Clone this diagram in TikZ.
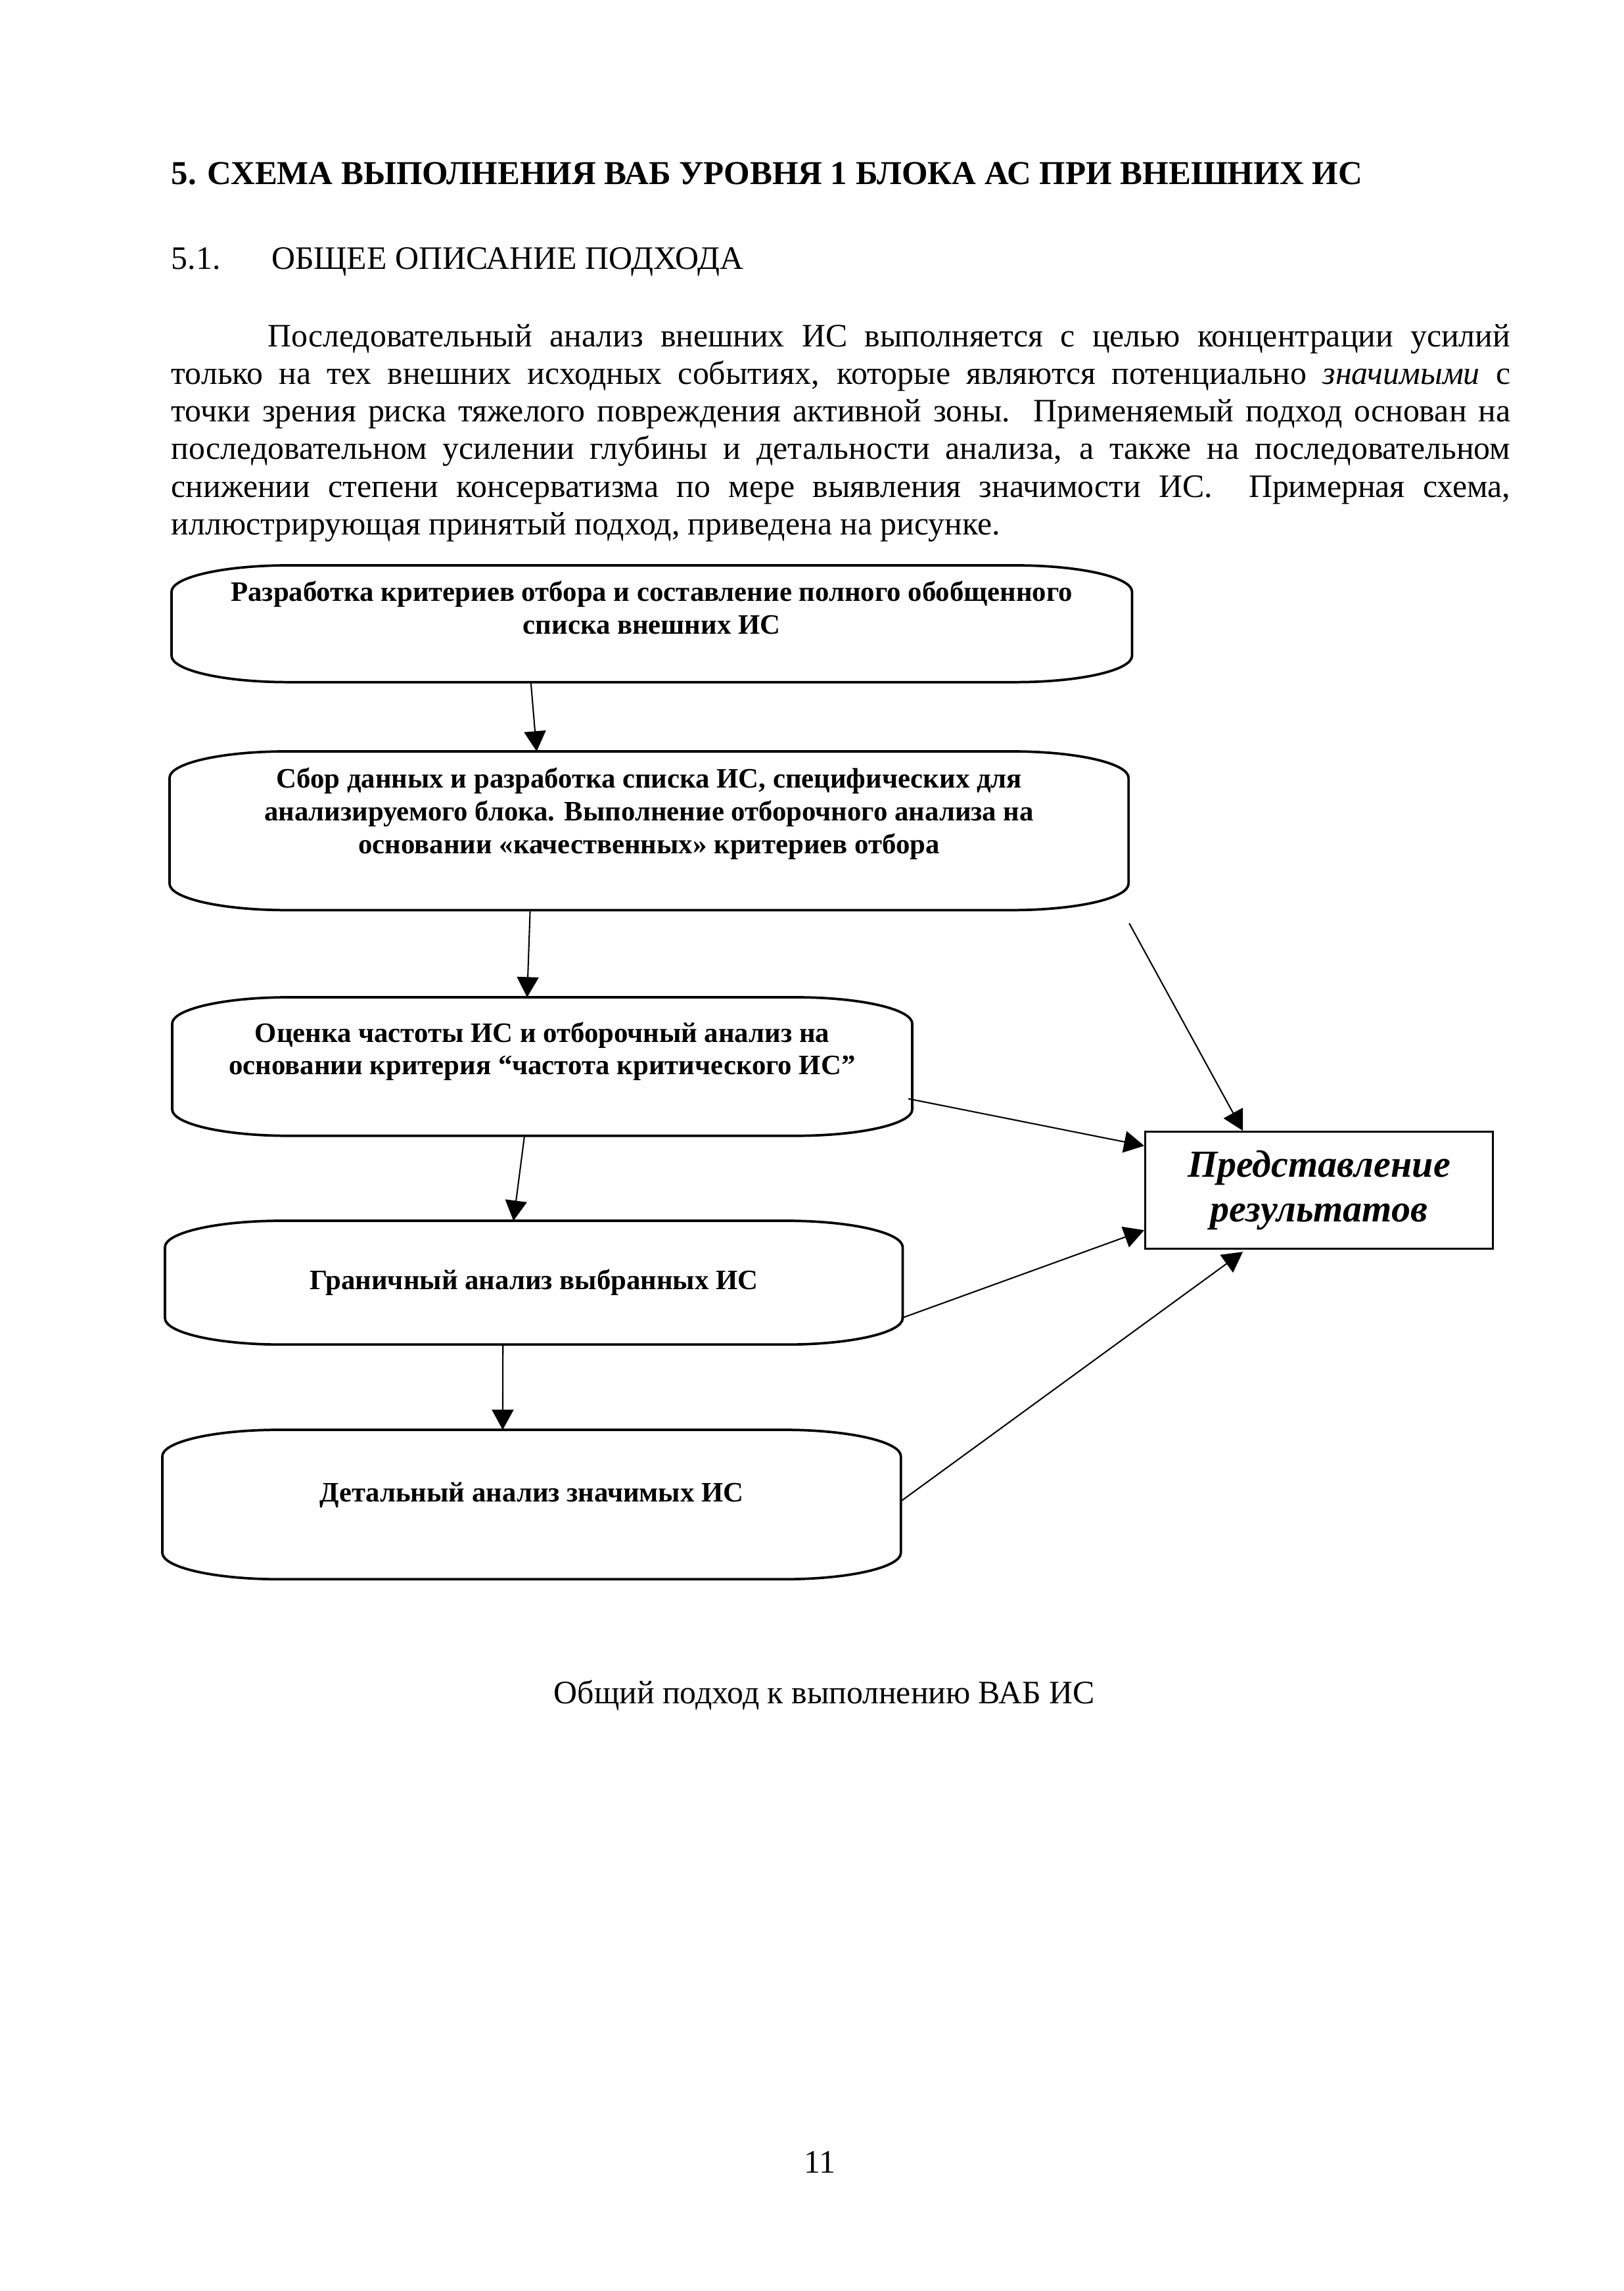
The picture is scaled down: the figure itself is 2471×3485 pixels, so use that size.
\documentclass[tikz,border=0pt]{standalone}
\usepackage{fontspec}
\setmainfont{Liberation Serif}
\usetikzlibrary{positioning,calc,arrows.meta}

% frame with flat elliptic corners round a stage node
\newcommand\stageframe[1]{%
  \draw[frame] ([xshift=15mm]#1.north west) -- ([xshift=-15mm]#1.north east)
    arc[start angle=90, end angle=0, x radius=15mm, y radius=3.4mm]
    -- ([yshift=3.4mm]#1.south east)
    arc[start angle=0, end angle=-90, x radius=15mm, y radius=3.4mm]
    -- ([xshift=15mm]#1.south west)
    arc[start angle=270, end angle=180, x radius=15mm, y radius=3.4mm]
    -- ([yshift=-3.4mm]#1.north west)
    arc[start angle=180, end angle=90, x radius=15mm, y radius=3.4mm] -- cycle;}

\tikzset{
  stage/.style={anchor=north west, inner sep=0pt, align=center,
    font=\fontsize{10.3}{12}\selectfont\bfseries},
  frame/.style={line width=0.9pt},
  result/.style={draw, line width=0.7pt, anchor=north west, inner sep=0pt,
    align=center, minimum width=44.8mm, minimum height=15.1mm,
    font=\fontsize{14}{16.6}\selectfont\bfseries\itshape},
  flow/.style={line width=0.5pt, -{Triangle[width=2.8mm, length=2.6mm]}},
  plain/.style={inner sep=0pt, font=\fontsize{12}{13.8}\selectfont}
}

\begin{document}
\begin{tikzpicture}[x=0.084667mm, y=-0.084667mm]
  \useasboundingbox (0,0) rectangle (2471,3485);

  % page text
  \node[plain, anchor=base west] (title) at (260,280) {\fontsize{12.25}{14}\selectfont\bfseries 5. СХЕМА ВЫПОЛНЕНИЯ ВАБ УРОВНЯ 1 БЛОКА АС ПРИ ВНЕШНИХ ИС};
  \node[plain, anchor=base west] (sect) at (260,409) {\makebox[12.9mm][l]{5.1.}ОБЩЕЕ ОПИСАНИЕ ПОДХОДА};
  \node[plain, anchor=base west, text width=172.5mm, align=justify] (para) at (260,527)
    {\parindent=12.4mm\indent Последовательный анализ внешних ИС выполняется с целью концентрации усилий\linebreak
     только на тех внешних исходных событиях, которые являются потенциально \textit{значимыми} с\linebreak
     точки зрения риска тяжелого повреждения активной зоны.\ \ Применяемый подход основан на\linebreak
     последовательном усилении глубины и детальности анализа, а также на последовательном\linebreak
     снижении степени консерватизма по мере выявления значимости ИС.\ \ Примерная схема,\linebreak
     иллюстрирующая принятый подход, приведена на рисунке.};

  % stages
  \node[stage, minimum width=123.6mm, minimum height=14.9mm] (b1) at (261,860)
    {Разработка критериев отбора и составление полного обобщенного\\
     списка внешних ИС\rule[-4.2mm]{0pt}{0pt}};
  \node[stage, minimum width=123.4mm, minimum height=20.3mm] (b2) at (258,1143)
    {Сбор данных и разработка списка ИС, специфических для\\
     анализируемого блока. Выполнение отборочного анализа на\\
     основании «качественных» критериев отбора\rule[-5.2mm]{0pt}{0pt}};
  \node[stage, minimum width=95.2mm, minimum height=17.7mm] (b3) at (262,1517)
    {Оценка частоты ИС и отборочный анализ на\\
     основании критерия “частота критического ИС”\rule[-4.7mm]{0pt}{0pt}};
  \node[stage, minimum width=94.9mm, minimum height=15.8mm] (b4) at (251,1857)
    {Граничный анализ выбранных ИС};
  \node[stage, minimum width=95.0mm, minimum height=19.1mm] (b5) at (247,2175)
    {Детальный анализ значимых ИС\rule[-3.2mm]{0pt}{0pt}};
  \foreach \n in {b1,b2,b3,b4,b5} \stageframe{\n};

  \node[result] (res) at (1741,1720) {Представление\\ результатов};

  % connectors
  \draw[flow] ($(b1.south)+(-184,0)$) -- ($(b2.north)+(-171,0)$);
  \draw[flow] ($(b2.south)+(-181,2)$) -- ($(b3.north)+(-23,0)$);
  \draw[flow] ($(b3.south)+(-27,0)$) -- ($(b4.north)+(-31,0)$);
  \draw[flow] ($(b4.south)+(-47,0)$) -- ($(b5.north)+(-44,0)$);
  \draw[flow] ($(b2.south east)+(1,20)$) -- ($(res.north)+(-116,0)$);
  \draw[flow] ($(b3.east)+(-6,49)$) -- ($(res.north west)+(0,23)$);
  \draw[flow] ($(b4.east)+(-2,54)$) -- ($(res.south west)+(0,-30)$);
  \draw[flow] ($(b5.east)+(0,-5)$) -- ($(res.south)+(-116,3)$);

  \node[plain, anchor=base] (caption) at (1254,2591) {Общий подход к выполнению ВАБ ИС};
  \node[plain, anchor=base] (pagenum) at (1247,3305) {11};
\end{tikzpicture}
\end{document}
